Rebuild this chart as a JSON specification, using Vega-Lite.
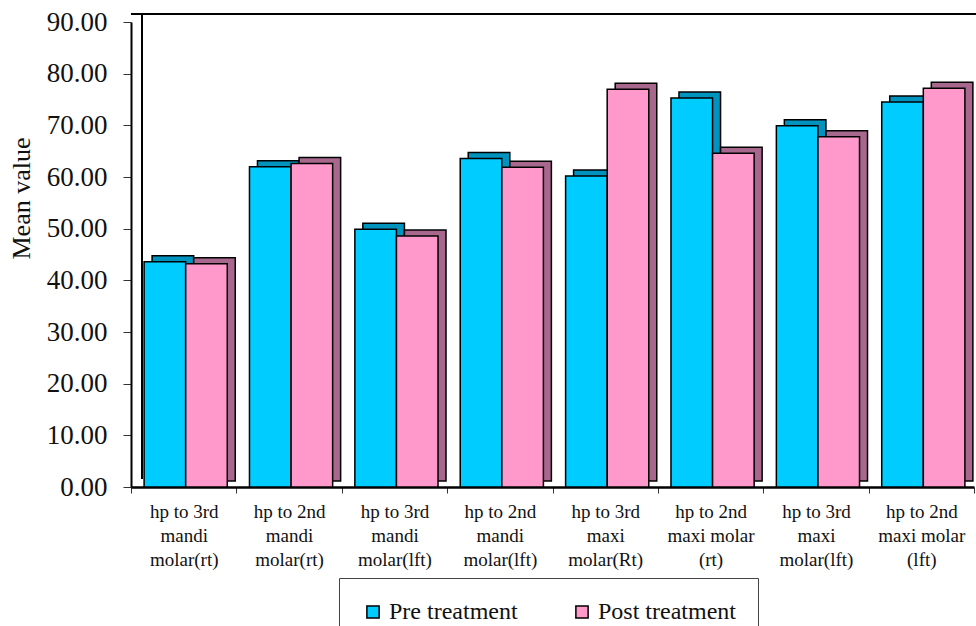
{
  "$schema": "https://vega.github.io/schema/vega-lite/v6.json",
  "width": 843,
  "height": 465,
  "autosize": "none",
  "padding": {"left": 131, "top": 22, "right": 2, "bottom": 139},
  "background": "white",
  "config": {
    "view": {"stroke": null},
    "font": "Liberation Serif"
  },
  "data": {
    "values": [
      {"category": "hp to 3rd|mandi|molar(rt)", "series": "Pre treatment", "value": 43.6},
      {"category": "hp to 3rd|mandi|molar(rt)", "series": "Post treatment", "value": 43.2},
      {"category": "hp to 2nd|mandi|molar(rt)", "series": "Pre treatment", "value": 62.0},
      {"category": "hp to 2nd|mandi|molar(rt)", "series": "Post treatment", "value": 62.6},
      {"category": "hp to 3rd|mandi|molar(lft)", "series": "Pre treatment", "value": 49.9},
      {"category": "hp to 3rd|mandi|molar(lft)", "series": "Post treatment", "value": 48.6},
      {"category": "hp to 2nd|mandi|molar(lft)", "series": "Pre treatment", "value": 63.6},
      {"category": "hp to 2nd|mandi|molar(lft)", "series": "Post treatment", "value": 61.9},
      {"category": "hp to 3rd|maxi|molar(Rt)", "series": "Pre treatment", "value": 60.2},
      {"category": "hp to 3rd|maxi|molar(Rt)", "series": "Post treatment", "value": 77.0},
      {"category": "hp to 2nd|maxi molar|(rt)", "series": "Pre treatment", "value": 75.3},
      {"category": "hp to 2nd|maxi molar|(rt)", "series": "Post treatment", "value": 64.6},
      {"category": "hp to 3rd|maxi|molar(lft)", "series": "Pre treatment", "value": 69.9},
      {"category": "hp to 3rd|maxi|molar(lft)", "series": "Post treatment", "value": 67.8},
      {"category": "hp to 2nd|maxi molar|(lft)", "series": "Pre treatment", "value": 74.5},
      {"category": "hp to 2nd|maxi molar|(lft)", "series": "Post treatment", "value": 77.2}
    ]
  },
  "encoding": {
    "x": {
      "field": "category",
      "type": "nominal",
      "sort": null,
      "scale": {"paddingInner": 0, "paddingOuter": 0},
      "axis": {
        "title": null,
        "labelAngle": 0,
        "labelExpr": "datum.value ? split(datum.value, '|') : ''",
        "labelFont": "Liberation Serif",
        "labelFontSize": 19,
        "labelLineHeight": 24,
        "labelColor": "#111111",
        "labelPadding": 9,
        "labelBaseline": "top",
        "labelLimit": 200,
        "tickBand": "extent",
        "tickSize": 6,
        "tickColor": "#333333",
        "tickWidth": 1,
        "domainColor": "black",
        "domainWidth": 2.5
      }
    },
    "y": {
      "field": "value",
      "type": "quantitative",
      "scale": {"domain": [0, 90], "nice": false},
      "axis": {
        "title": "Mean value",
        "titleFont": "Liberation Serif",
        "titleFontSize": 26,
        "titleFontWeight": "normal",
        "titleColor": "#111111",
        "titleX": -102,
        "titleY": 176,
        "titleAngle": -90,
        "titleAlign": "center",
        "titleBaseline": "alphabetic",
        "values": [0, 10, 20, 30, 40, 50, 60, 70, 80, 90],
        "format": ".2f",
        "labelFont": "Liberation Serif",
        "labelFontSize": 27,
        "labelColor": "#111111",
        "labelPadding": 16,
        "tickSize": 8,
        "tickColor": "#333333",
        "domainColor": "black",
        "domainWidth": 2,
        "grid": false
      }
    }
  },
  "resolve": {"scale": {"xOffset": "independent", "fill": "independent"}, "legend": {"fill": "independent"}},
  "layer": [
    {
      "mark": {"type": "rule", "color": "black", "strokeWidth": 2, "xOffset": 12, "yOffset": -8},
      "encoding": {"y": {"datum": 90}, "x": null}
    },
    {
      "mark": {"type": "rule", "color": "black", "strokeWidth": 2, "yOffset": -8, "y2Offset": -8, "xOffset": 11},
      "encoding": {"x": {"datum": "hp to 3rd|mandi|molar(rt)", "bandPosition": 0}, "y": {"datum": 90}, "y2": {"datum": 0}}
    },
    {
      "mark": {"type": "bar", "stroke": "black", "strokeWidth": 1.5, "yOffset": -6, "y2Offset": -6},
      "encoding": {
        "xOffset": {"field": "series", "type": "nominal", "sort": ["Pre treatment", "Post treatment"], "scale": {"paddingInner": 0, "paddingOuter": 0.267, "align": 0.95}},
        "fill": {
          "field": "series",
          "type": "nominal",
          "scale": {"domain": ["Pre treatment", "Post treatment"], "range": ["#0093BE", "#A8688E"]},
          "legend": null
        }
      }
    },
    {
      "mark": {"type": "bar", "stroke": "black", "strokeWidth": 1.5},
      "encoding": {
        "xOffset": {"field": "series", "type": "nominal", "sort": ["Pre treatment", "Post treatment"], "scale": {"paddingInner": 0, "paddingOuter": 0.267, "align": 0.59}},
        "fill": {
          "field": "series",
          "type": "nominal",
          "scale": {"domain": ["Pre treatment", "Post treatment"], "range": ["#00CCFF", "#FF99CC"]},
          "legend": {
            "title": null,
            "orient": "none",
            "legendX": 208,
            "legendY": 556,
            "direction": "horizontal",
            "labelFont": "Liberation Serif",
            "labelFontSize": 24,
            "labelColor": "#111111",
            "labelOffset": 4,
            "symbolType": "square",
            "symbolSize": 150,
            "symbolStrokeColor": "black",
            "symbolStrokeWidth": 1.5,
            "symbolOpacity": 1,
            "columnPadding": 52,
            "padding": 22,
            "strokeColor": "#444444"
          }
        }
      }
    }
  ]
}
